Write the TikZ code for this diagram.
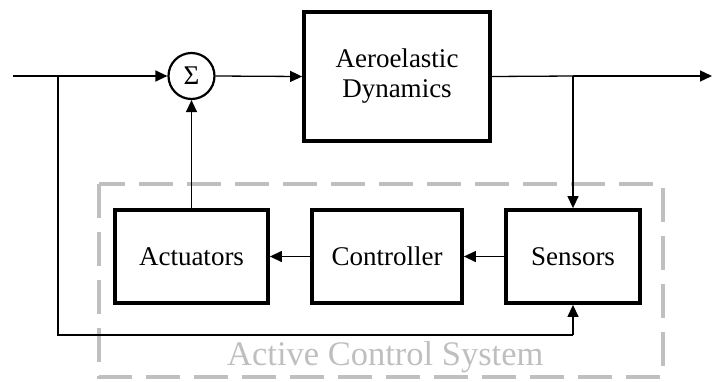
\documentclass[tikz,border=0pt]{standalone}
\usepackage{fontspec}
\setmainfont{Liberation Serif}
\usetikzlibrary{arrows.meta}
\begin{document}
\begin{tikzpicture}[x=1pt,y=1pt,
  blockbox/.style={draw=black,line width=3.8pt,inner sep=0pt,minimum height=93pt,
    font=\fontsize{27}{30}\selectfont,align=center},
  sumnode/.style={draw=black,circle,line width=2.2pt,inner sep=0pt,minimum size=46pt,
    font=\fontsize{27}{30}\selectfont},
  conn/.style={line width=1.3pt,-{Triangle[length=12pt,width=11pt]}},
  plainline/.style={line width=1.3pt},
  groupbox/.style={draw=gray!50,line width=3.5pt,dash pattern=on 34pt off 14pt},
  grouplabel/.style={text=gray!50,font=\fontsize{34.5}{40}\selectfont,inner sep=0pt}]
\useasboundingbox (0,0) rectangle (712,-381);
% group frame
\draw[groupbox] (99,-184) rectangle (663,-377);
\node[grouplabel,anchor=base west] (lbl) at (227,-365) {Active Control System};
% blocks
\node[sumnode] (sum) at (191.5,-76) {Σ};
\node[blockbox,minimum width=186pt,minimum height=129pt] (aero) at (397,-76.5) {Aeroelastic\\Dynamics};
\node[blockbox,minimum width=153pt] (act) at (191.5,-256.5) {Actuators};
\node[blockbox,minimum width=150pt] (ctrl) at (387,-256.5) {Controller};
\node[blockbox,minimum width=134pt] (sens) at (573,-256.5) {Sensors};
% coordinates
\coordinate (in) at (13,-76);
\coordinate (jin) at (58,-76);
\coordinate (jb) at (58,-335);
\coordinate (sb) at (573,-335);
\coordinate (jout) at (573,-76);
\coordinate (out) at (712,-76);
% connectors
\draw[plainline] (in) -- (jin);
\draw[conn] (jin) -- (sum.west);
\draw[conn] (sum.east) -- (aero.west);
\draw[plainline] (aero.east) -- (jout);
\draw[conn] (jout) -- (out);
\draw[conn] (jout) -- (sens.north);
\draw[conn] (sens.west) -- (ctrl.east);
\draw[conn] (ctrl.west) -- (act.east);
\draw[conn] (act.north) -- (sum.south);
\draw[plainline] (jin) -- (jb) -- (sb);
\draw[conn] (sb) -- (sens.south);
\end{tikzpicture}
\end{document}
